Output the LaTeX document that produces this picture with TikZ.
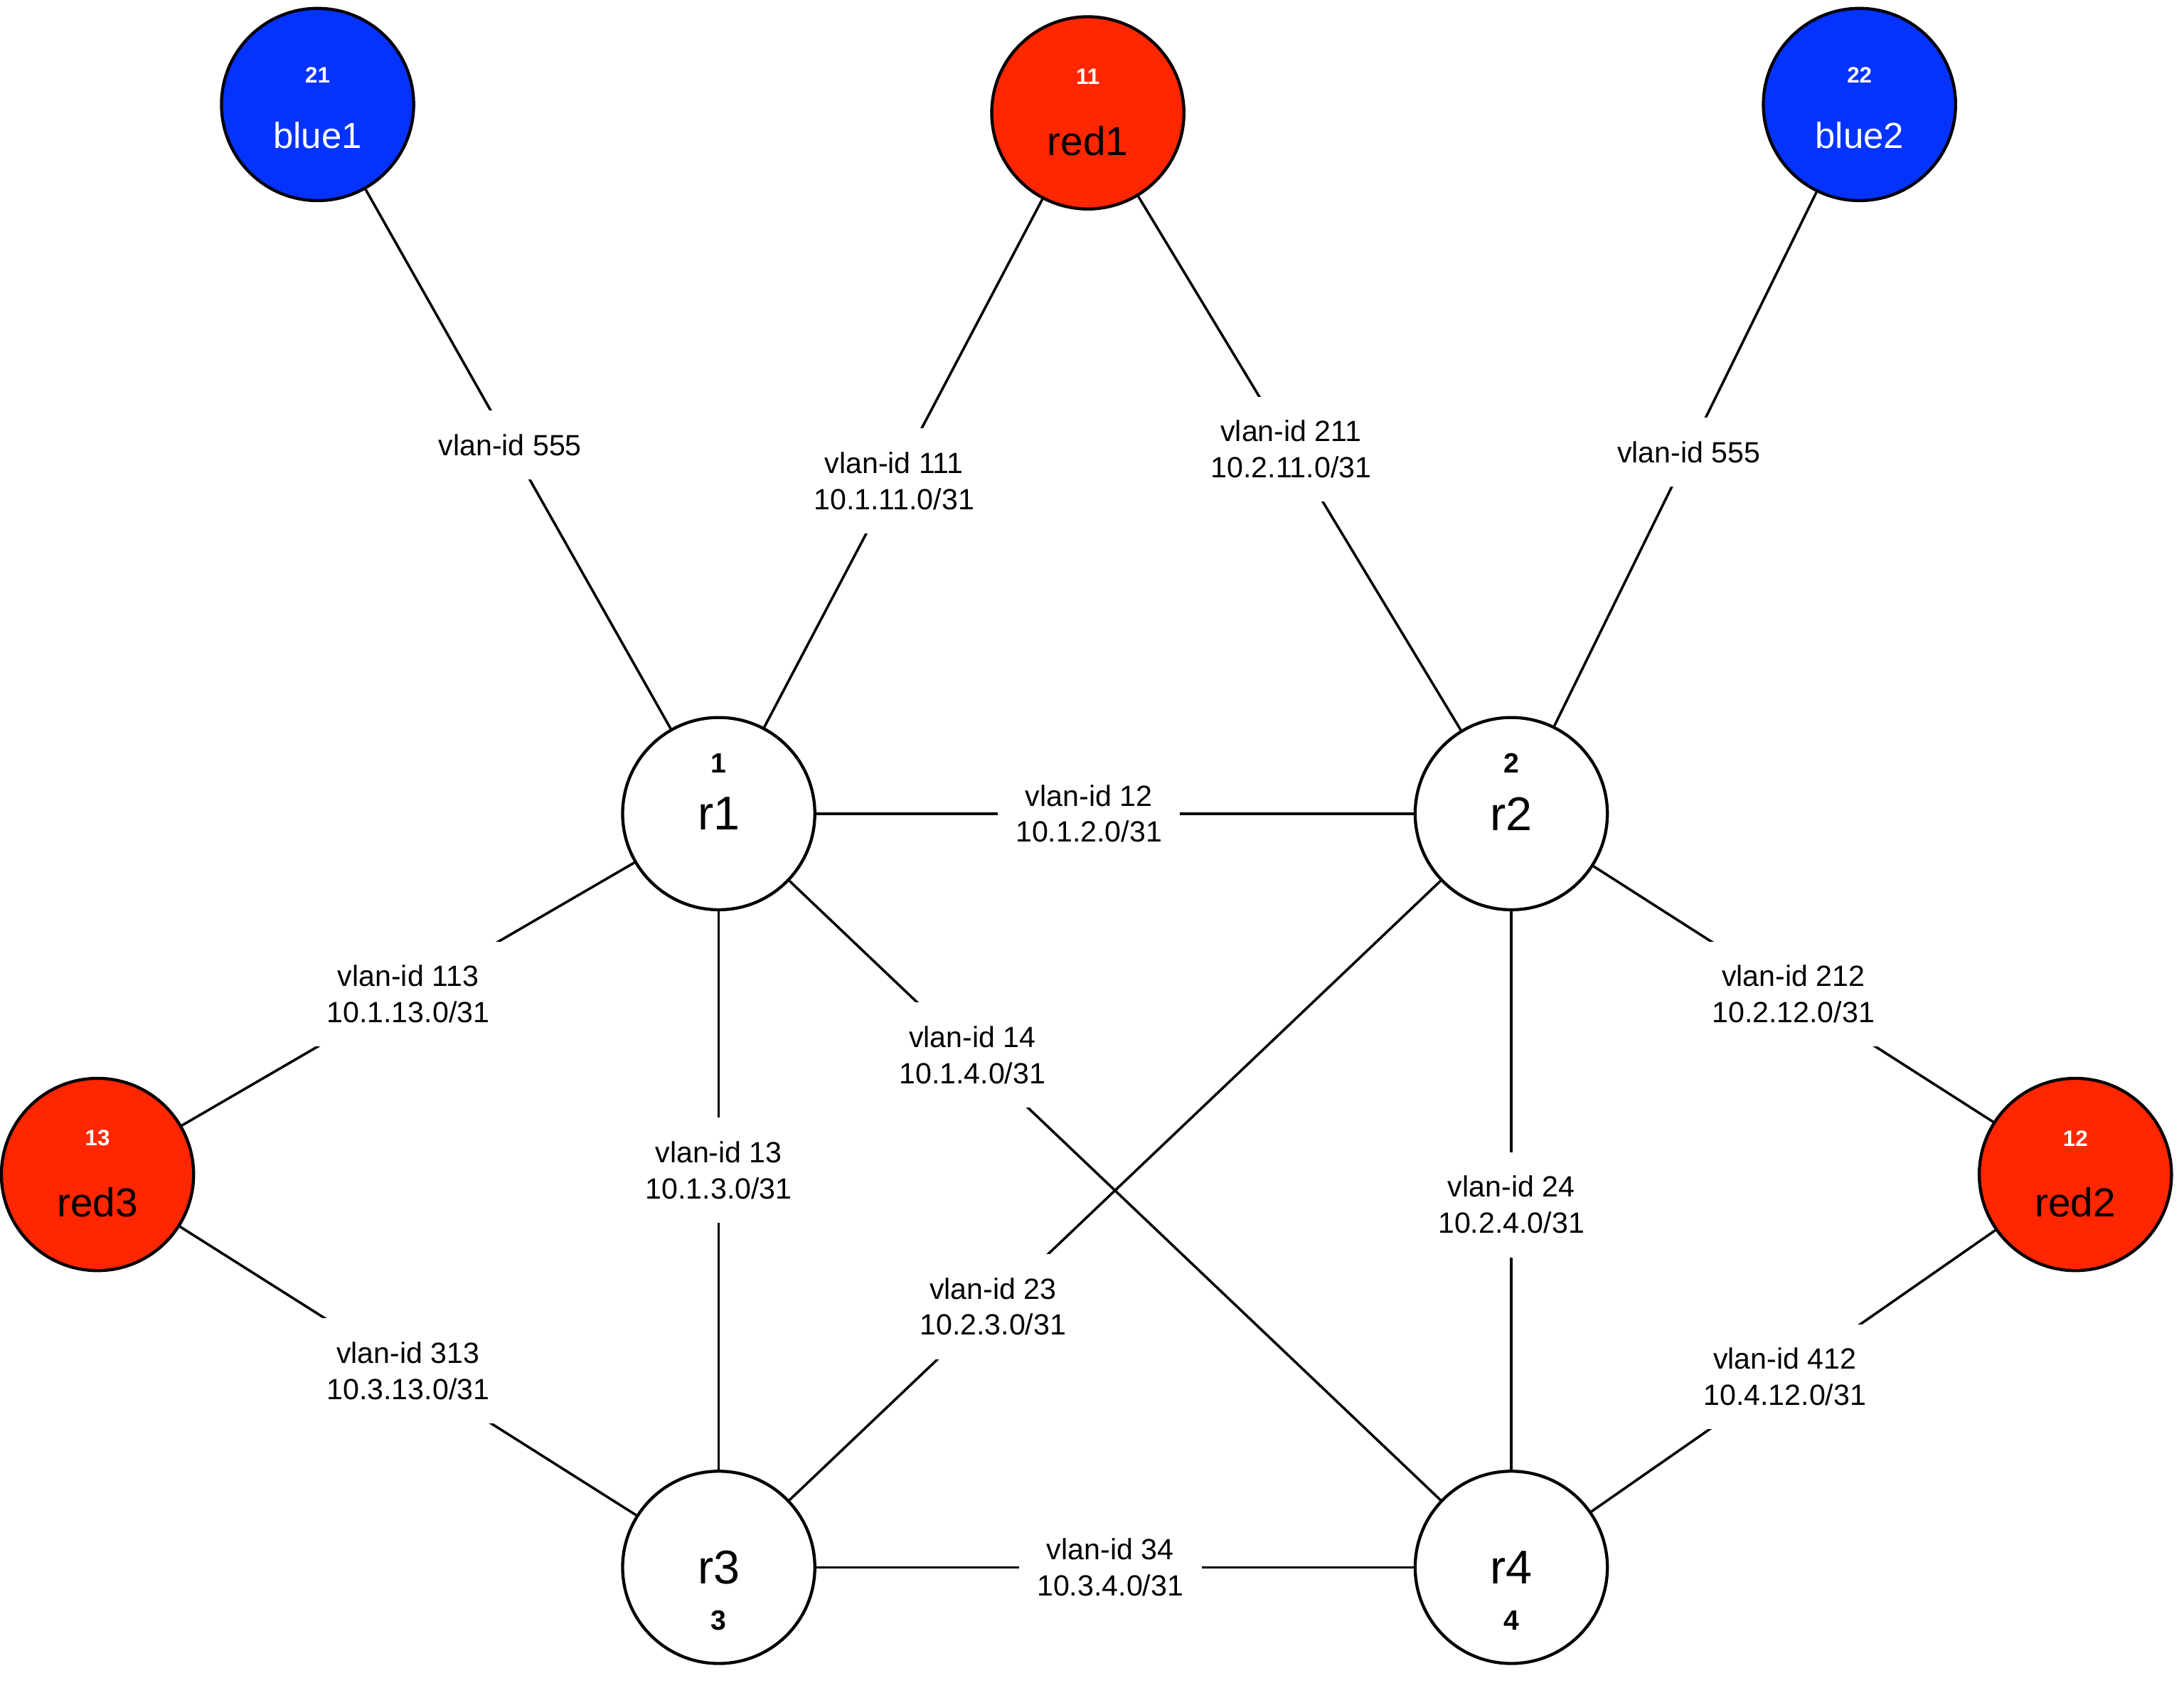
\documentclass[tikz,border=0pt]{standalone}
\usepackage{fontspec}
\setmainfont{Liberation Sans}
\usetikzlibrary{calc}
\definecolor{hostblue}{HTML}{0433FF}
\definecolor{hostred}{HTML}{FF2600}

\begin{document}
\begin{tikzpicture}[x=0.5pt,y=-0.5pt,
  router/.style={circle, draw=black, line width=1.1pt, fill=white, minimum size=69pt, inner sep=0pt, font=\fontsize{17}{20}\selectfont},
  host/.style={circle, draw=black, line width=1.1pt, fill=#1, minimum size=69pt, inner sep=0pt},
  rnum/.style={font=\fontsize{10}{12}\selectfont\bfseries, inner sep=0pt},
  hnum/.style={font=\fontsize{8}{10}\selectfont\bfseries, text=white, inner sep=0pt},
  bname/.style={font=\fontsize{13}{15}\selectfont, text=white, inner sep=0pt},
  rname/.style={font=\fontsize{14.5}{17}\selectfont, text=black, inner sep=0pt},
  link/.style={line width=0.9pt, draw=black},
  lbl/.style={fill=white, inner xsep=6.5pt, inner ysep=8.5pt, align=center, font=\fontsize{10.5}{13}\selectfont},
]
\useasboundingbox (0,0) rectangle (1568,1211.1);

% routers
\node[router] (r1) at (516,584) {r1};
\node[rnum] (r1n) at ([yshift=18pt]r1.center) {1};
\node[router] (r2) at (1085,584) {r2};
\node[rnum] (r2n) at ([yshift=18pt]r2.center) {2};
\node[router] (r3) at (516,1125) {r3};
\node[rnum] (r3n) at ([yshift=-19pt]r3.center) {3};
\node[router] (r4) at (1085,1125) {r4};
\node[rnum] (r4n) at ([yshift=-19pt]r4.center) {4};

% hosts
\node[host=hostblue] (blue1) at (228,75) {};
\node[hnum] (blue1n) at ([yshift=10.5pt]blue1.center) {21};
\node[bname] (blue1t) at ([yshift=-11pt]blue1.center) {blue1};

\node[host=hostred] (red1) at (781,81) {};
\node[hnum] (red1n) at ([yshift=13pt]red1.center) {11};
\node[rname] (red1t) at ([yshift=-10pt]red1.center) {red1};

\node[host=hostblue] (blue2) at (1335,75) {};
\node[hnum] (blue2n) at ([yshift=10.5pt]blue2.center) {22};
\node[bname] (blue2t) at ([yshift=-11pt]blue2.center) {blue2};

\node[host=hostred] (red3) at (70,843) {};
\node[hnum] (red3n) at ([yshift=13pt]red3.center) {13};
\node[rname] (red3t) at ([yshift=-10pt]red3.center) {red3};

\node[host=hostred] (red2) at (1490,843) {};
\node[hnum] (red2n) at ([yshift=13pt]red2.center) {12};
\node[rname] (red2t) at ([yshift=-10pt]red2.center) {red2};

% links
\draw[link] (blue1) -- (r1);
\draw[link] (red1) -- (r1);
\draw[link] (red1) -- (r2);
\draw[link] (blue2) -- (r2);
\draw[link] (r1) -- (r2);
\draw[link] (r1) -- (red3);
\draw[link] (r1) -- (r3);
\draw[link] (r1) -- (r4);
\draw[link] (r2) -- (r3);
\draw[link] (r2) -- (r4);
\draw[link] (r2) -- (red2);
\draw[link] (red3) -- (r3);
\draw[link] (r3) -- (r4);
\draw[link] (red2) -- (r4);

% link labels
\node[lbl] (lb1r1) at ($(blue1)!0.48!(r1)$) {vlan-id 555};
\node[lbl] (lrd1r1) at ($(red1)!0.525!(r1)$) {vlan-id 111\\10.1.11.0/31};
\node[lbl] (lrd1r2) at ($(red1)!0.48!(r2)$) {vlan-id 211\\10.2.11.0/31};
\node[lbl] (lb2r2) at ($(blue2)!0.49!(r2)$) {vlan-id 555};
\node[lbl] (lr1r2) at ($(r1)!0.467!(r2)$) {vlan-id 12\\10.1.2.0/31};
\node[lbl] (lr1rd3) at ($(r1)!0.5!(red3)$) {vlan-id 113\\10.1.13.0/31};
\node[lbl] (lr1r3) at ($(r1)!0.473!(r3)$) {vlan-id 13\\10.1.3.0/31};
\node[lbl] (lr1r4) at ($(r1)!0.32!(r4)$) {vlan-id 14\\10.1.4.0/31};
\node[lbl] (lr2r3) at ($(r2)!0.654!(r3)$) {vlan-id 23\\10.2.3.0/31};
\node[lbl] (lr2r4) at ($(r2)!0.519!(r4)$) {vlan-id 24\\10.2.4.0/31};
\node[lbl] (lr2rd2) at ($(r2)!0.5!(red2)$) {vlan-id 212\\10.2.12.0/31};
\node[lbl] (lrd3r3) at ($(red3)!0.5!(r3)$) {vlan-id 313\\10.3.13.0/31};
\node[lbl] (lr3r4) at ($(r3)!0.494!(r4)$) {vlan-id 34\\10.3.4.0/31};
\node[lbl] (lrd2r4) at ($(red2)!0.515!(r4)$) {vlan-id 412\\10.4.12.0/31};
\end{tikzpicture}
\end{document}
